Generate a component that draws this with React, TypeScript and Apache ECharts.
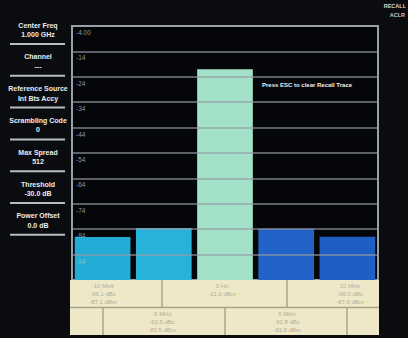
import React, { useEffect, useRef } from "react";
import * as echarts from "echarts";

// Channel offsets and measured power (dBm) per channel
const offsets = ["-10 MHz", "-5 MHz", "0 Hz", "5 MHz", "10 MHz"];
const powers = [-87.1, -83.5, -21.0, -83.8, -87.0];
const carrierIndex = 2;

// Reference level and scale (dBm)
const refLevel = -4;
const bottomLevel = -104;
const gridLevels = [-94, -84, -74, -64, -54, -44, -34, -24, -14];

// Settings panel entries
const panelItems: [string, string][] = [
  ["Center Freq", "1.000 GHz"],
  ["Channel", "---"],
  ["Reference Source", "Int Bts Accy"],
  ["Scrambling Code", "0"],
  ["Max Spread", "512"],
  ["Threshold", "-30.0 dB"],
  ["Power Offset", "0.0 dB"],
];

const barColors = ["#22acd6", "#27b2da", "#a3e2c9", "#2163c6", "#1f5ec2"];

const FONT = "'Liberation Sans', Arial, sans-serif";

function cellText(i: number): string {
  const p = powers[i];
  if (i === carrierIndex) return `${offsets[i]}\n${p.toFixed(1)} dBm`;
  const rel = p - powers[carrierIndex];
  return `${offsets[i]}\n${rel.toFixed(1)} dBc\n${p.toFixed(1)} dBm`;
}

export default function App() {
  const ref = useRef<HTMLDivElement>(null);

  useEffect(() => {
    if (!ref.current) return;
    const chart = echarts.init(ref.current, null, { renderer: "svg" });

    const gridLeft = 72;
    const gridTop = 26;
    const gridW = 306;
    const gridH = 254;

    const panel: any[] = [];
    panelItems.forEach(([title, value], i) => {
      const y = 25 + i * 31.8;
      panel.push({
        type: "text",
        x: 38,
        y,
        style: {
          text: title,
          fill: "#ececec",
          font: `bold 7px ${FONT}`,
          textAlign: "center",
          textVerticalAlign: "middle",
        },
      });
      panel.push({
        type: "text",
        x: 38,
        y: y + 9.5,
        style: {
          text: value,
          fill: "#ececec",
          font: `bold 7px ${FONT}`,
          textAlign: "center",
          textVerticalAlign: "middle",
        },
      });
      panel.push({
        type: "rect",
        shape: { x: 10, y: y + 18, width: 55, height: 2 },
        style: { fill: "#b9bcc0" },
      });
    });

    // Result table below the plot
    const tableTop = gridTop + gridH;
    const rowH = 27.5;
    const lineColor = "#a9a38a";
    const textColor = "#b3ad97";
    const table: any[] = [
      {
        type: "rect",
        shape: { x: 70, y: tableTop, width: 309, height: rowH * 2 },
        style: { fill: "#efe8c8" },
        z: 10,
      },
      {
        type: "line",
        shape: { x1: 70, y1: tableTop + rowH, x2: 379, y2: tableTop + rowH },
        style: { stroke: lineColor, lineWidth: 1.5 },
        z: 11,
      },
    ];
    [162, 287].forEach((x) =>
      table.push({
        type: "line",
        shape: { x1: x, y1: tableTop, x2: x, y2: tableTop + rowH },
        style: { stroke: lineColor, lineWidth: 1.5 },
        z: 11,
      })
    );
    [103, 225, 347].forEach((x) =>
      table.push({
        type: "line",
        shape: { x1: x, y1: tableTop + rowH, x2: x, y2: tableTop + rowH * 2 },
        style: { stroke: lineColor, lineWidth: 1.5 },
        z: 11,
      })
    );
    const cellPos: Record<number, [number, number]> = {
      0: [103, tableTop + 2],
      2: [222, tableTop + 2],
      4: [350, tableTop + 2],
      1: [162, tableTop + rowH + 2],
      3: [287, tableTop + rowH + 2],
    };
    offsets.forEach((_, i) => {
      const [x, y] = cellPos[i];
      table.push({
        type: "text",
        x,
        y,
        z: 12,
        style: {
          text: cellText(i),
          fill: textColor,
          font: `6px ${FONT}`,
          lineHeight: 8,
          textAlign: "center",
          textVerticalAlign: "top",
        },
      });
    });

    chart.setOption({
      animation: false,
      backgroundColor: "#0b0c10",
      grid: {
        left: gridLeft,
        top: gridTop,
        width: gridW,
        height: gridH,
        show: true,
        backgroundColor: "#050609",
        borderColor: "#9aa0a8",
        borderWidth: 2,
      },
      xAxis: {
        type: "category",
        data: offsets,
        axisLine: { show: false },
        axisTick: { show: false },
        axisLabel: { show: false },
      },
      yAxis: {
        type: "value",
        min: bottomLevel,
        max: refLevel,
        interval: 2,
        startValue: bottomLevel,
        z: 5,
        axisLine: { show: false },
        axisTick: { show: false },
        splitLine: { show: false },
        axisLabel: {
          inside: true,
          margin: 4,
          verticalAlign: "top",
          padding: [3, 0, 0, 0],
          color: "rgba(180,188,198,0.8)",
          fontFamily: FONT,
          fontSize: 6.5,
          formatter: (v: number) => {
            if (v === refLevel) return refLevel.toFixed(2);
            return gridLevels.includes(v) ? String(v) : "";
          },
        },
      },
      series: [
        {
          type: "bar",
          data: powers.map((p, i) => ({
            value: p,
            itemStyle: { color: barColors[i] },
          })),
          barCategoryGap: "9%",
          markLine: {
            silent: true,
            symbol: "none",
            label: { show: false },
            lineStyle: { color: "rgba(150,156,165,0.8)", width: 1.5, type: "solid" },
            data: gridLevels.map((v) => ({ yAxis: v })),
          },
        },
      ],
      graphic: [
        ...panel,
        ...table,
        {
          type: "text",
          x: 262,
          y: 85,
          style: {
            text: "Press ESC to clear Recall Trace",
            fill: "#f2f2f2",
            font: `bold 6px ${FONT}`,
            textVerticalAlign: "middle",
          },
        },
        {
          type: "text",
          x: 406,
          y: 6,
          style: {
            text: "RECALL",
            fill: "#d6d6d6",
            font: `bold 5.5px ${FONT}`,
            textAlign: "right",
            textVerticalAlign: "middle",
          },
        },
        {
          type: "text",
          x: 405,
          y: 15,
          style: {
            text: "ACLR",
            fill: "#c8c8c8",
            font: `bold 5.5px ${FONT}`,
            textAlign: "right",
            textVerticalAlign: "middle",
          },
        },
      ],
    });

    return () => chart.dispose();
  }, []);

  return (
    <div
      ref={ref}
      style={{ position: "fixed", left: 0, top: 0, width: 408, height: 338 }}
    />
  );
}
